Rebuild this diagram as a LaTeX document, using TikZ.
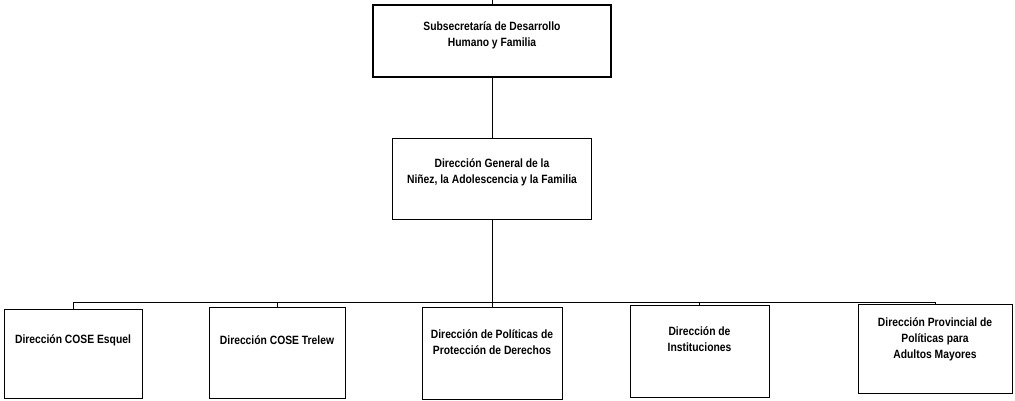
\documentclass[tikz,border=0pt]{standalone}
\usepackage{fontspec}
\setmainfont[FakeStretch=0.86]{Liberation Sans}
\usetikzlibrary{positioning}
\begin{document}
\begin{tikzpicture}[x=1pt,y=-1pt,
      every node/.style={inner sep=0pt},
      box/.style={draw,rectangle,line width=0.9pt},
      txt/.style={align=center,font=\bfseries\fontsize{12}{16}\selectfont},
      node distance=60pt, line width=0.9pt
    ]
    \useasboundingbox (0,0) rectangle (1015,400);
    \coordinate (top) at (492,0);
    \coordinate (bus) at (0,302);
    \node [box,line width=1.8pt,minimum width=238pt,minimum height=72pt] (sub) at (492,41) {};
    \node [box,minimum width=199pt,minimum height=81pt] (dg) [below=of sub] {};
    \node [box,minimum width=140pt,minimum height=92pt] (pol) [below=87pt of dg] {};
    \node [box,minimum width=138pt,minimum height=89pt] (esq) at (73,353.5) {};
    \node [box,minimum width=136pt,minimum height=91pt] (tre) at (277,352.5) {};
    \node [box,minimum width=139pt,minimum height=92pt] (ins) at (699.5,351) {};
    \node [box,minimum width=154pt,minimum height=89pt] (may) at (935,348.5) {};

    \node [txt,yshift=6pt] (sub-t) at (sub) {Subsecretaría de Desarrollo\\Humano y Familia};
    \node [txt,yshift=7pt] (dg-t) at (dg) {Dirección General de la\\Niñez, la Adolescencia y la Familia};
    \node [txt,yshift=13pt] (esq-t) at (esq) {Dirección COSE Esquel};
    \node [txt,yshift=12pt] (tre-t) at (tre) {Dirección COSE Trelew};
    \node [txt,yshift=11pt] (pol-t) at (pol) {Dirección de Políticas de\\Protección de Derechos};
    \node [txt,yshift=12pt] (ins-t) at (ins) {Dirección de\\Instituciones};
    \node [txt,yshift=9pt] (may-t) at (may) {Dirección Provincial de\\Políticas para\\Adultos Mayores};

    \draw (sub) -- (top);
    \draw (sub) -- (dg);
    \draw (dg.south) -- (dg.south |- bus);
    \draw (esq.north) -- (esq.north |- bus) -- (may.north |- bus) -- (may.north);
    \foreach \n in {tre,pol,ins}
      \draw (\n.north) -- (\n.north |- bus);
\end{tikzpicture}
\end{document}
